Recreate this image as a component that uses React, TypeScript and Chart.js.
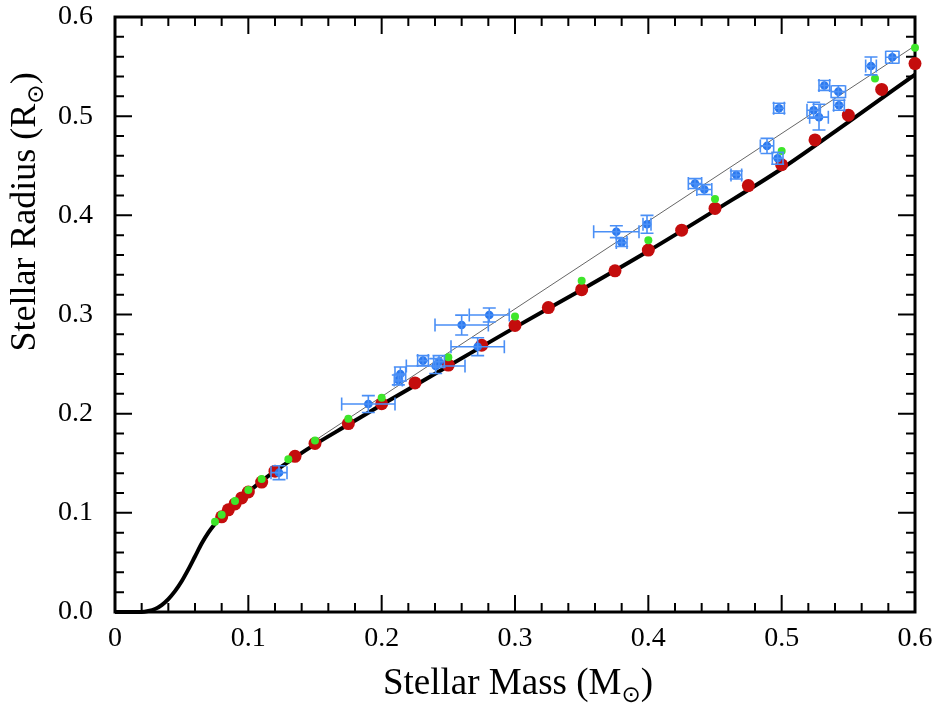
import React, { useEffect, useRef } from "react";
import { Chart, registerables } from "chart.js";

Chart.register(...registerables);

// Axis ticks
const xTickValues = [0, 0.1, 0.2, 0.3, 0.4, 0.5, 0.6];
const xTickLabels = ["0", "0.1", "0.2", "0.3", "0.4", "0.5", "0.6"];
const yTickValues = [0, 0.1, 0.2, 0.3, 0.4, 0.5, 0.6];
const yTickLabels = ["0.0", "0.1", "0.2", "0.3", "0.4", "0.5", "0.6"];

// Thick black model curve
const curveMass = [0, 0.02, 0.025, 0.03, 0.035, 0.04, 0.045, 0.05, 0.055, 0.06, 0.065, 0.07, 0.075, 0.08, 0.09, 0.1, 0.11, 0.12, 0.135, 0.15, 0.175, 0.2, 0.25, 0.3, 0.35, 0.4, 0.45, 0.5, 0.55, 0.6];
const curveRadius = [0, 0, 0.001, 0.003, 0.007, 0.013, 0.021, 0.031, 0.043, 0.056, 0.069, 0.08, 0.089, 0.097, 0.109, 0.121, 0.132, 0.142, 0.156, 0.169, 0.189, 0.209, 0.248, 0.287, 0.325, 0.364, 0.405, 0.447, 0.494, 0.542];

// Thin grey line
const thinMass = [0.15, 0.6];
const thinRadius = [0.173, 0.571];

// Red model points
const redMass = [0.08, 0.085, 0.09, 0.095, 0.1, 0.11, 0.12, 0.135, 0.15, 0.175, 0.2, 0.225, 0.25, 0.275, 0.3, 0.325, 0.35, 0.375, 0.4, 0.425, 0.45, 0.475, 0.5, 0.525, 0.55, 0.575, 0.6];
const redRadius = [0.096, 0.103, 0.109, 0.115, 0.121, 0.131, 0.142, 0.157, 0.17, 0.19, 0.21, 0.231, 0.249, 0.269, 0.289, 0.307, 0.325, 0.344, 0.365, 0.385, 0.407, 0.43, 0.451, 0.476, 0.501, 0.527, 0.553];

// Green model points
const greenMass = [0.075, 0.08, 0.09, 0.1, 0.11, 0.13, 0.15, 0.175, 0.2, 0.25, 0.3, 0.35, 0.4, 0.45, 0.5, 0.57, 0.6];
const greenRadius = [0.091, 0.098, 0.112, 0.123, 0.134, 0.154, 0.173, 0.195, 0.216, 0.257, 0.298, 0.334, 0.375, 0.4165, 0.465, 0.538, 0.569];

// Blue observed points with errors
const blueMass = [0.123, 0.19, 0.2125, 0.214, 0.231, 0.2405, 0.243, 0.26, 0.272, 0.2807, 0.376, 0.38, 0.399, 0.435, 0.442, 0.466, 0.489, 0.497, 0.498, 0.524, 0.528, 0.532, 0.5425, 0.543, 0.567, 0.583];
const blueRadius = [0.1405, 0.2097, 0.234, 0.24, 0.2535, 0.248, 0.2525, 0.2894, 0.2675, 0.2995, 0.3835, 0.3725, 0.391, 0.432, 0.426, 0.4407, 0.47, 0.4575, 0.508, 0.506, 0.499, 0.531, 0.5247, 0.511, 0.5506, 0.5594];
const blueMassErr = [0.006, 0.02, 0.003, 0.004, 0.004, 0.022, 0.004, 0.02, 0.02, 0.015, 0.017, 0.004, 0.003, 0.005, 0.0056, 0.004, 0.005, 0.004, 0.004, 0.005, 0.007, 0.004, 0.0054, 0.004, 0.004, 0.005];
const blueRadiusErr = [0.007, 0.0085, 0.005, 0.007, 0.005, 0.0075, 0.006, 0.01, 0.009, 0.007, 0.006, 0.004, 0.009, 0.005, 0.005, 0.004, 0.0076, 0.006, 0.005, 0.008, 0.013, 0.005, 0.006, 0.005, 0.009, 0.006];

const xy = (xs: number[], ys: number[]) => xs.map((x, i) => ({ x, y: ys[i] }));

const errorBarPlugin = {
  id: "errorBars",
  afterDatasetsDraw(chart: any) {
    const ctx = chart.ctx;
    const xs = chart.scales.x;
    const ys = chart.scales.y;
    const cap = 6.5;
    ctx.save();
    ctx.strokeStyle = "#4a8ff6";
    ctx.lineWidth = 1.6;
    for (let i = 0; i < blueMass.length; i++) {
      const px = xs.getPixelForValue(blueMass[i]);
      const py = ys.getPixelForValue(blueRadius[i]);
      const x0 = xs.getPixelForValue(blueMass[i] - blueMassErr[i]);
      const x1 = xs.getPixelForValue(blueMass[i] + blueMassErr[i]);
      const y0 = ys.getPixelForValue(blueRadius[i] - blueRadiusErr[i]);
      const y1 = ys.getPixelForValue(blueRadius[i] + blueRadiusErr[i]);
      ctx.beginPath();
      ctx.moveTo(x0, py); ctx.lineTo(x1, py);
      ctx.moveTo(x0, py - cap); ctx.lineTo(x0, py + cap);
      ctx.moveTo(x1, py - cap); ctx.lineTo(x1, py + cap);
      ctx.moveTo(px, y0); ctx.lineTo(px, y1);
      ctx.moveTo(px - cap, y0); ctx.lineTo(px + cap, y0);
      ctx.moveTo(px - cap, y1); ctx.lineTo(px + cap, y1);
      ctx.stroke();
    }
    ctx.restore();
  },
};

const framePlugin = {
  id: "frameTicks",
  beforeDatasetsDraw(chart: any) {
    const ctx = chart.ctx;
    const { left, right, top, bottom } = chart.chartArea;
    const xs = chart.scales.x;
    const ys = chart.scales.y;
    ctx.save();
    ctx.strokeStyle = "#000";
    ctx.lineWidth = 2;
    for (let i = 0; i <= 30; i++) {
      const v = i * 0.02;
      const len = i % 5 === 0 ? 17 : 9;
      const px = xs.getPixelForValue(v);
      const py = ys.getPixelForValue(v);
      ctx.beginPath();
      ctx.moveTo(px, bottom); ctx.lineTo(px, bottom - len);
      ctx.moveTo(px, top); ctx.lineTo(px, top + len);
      ctx.moveTo(left, py); ctx.lineTo(left + len, py);
      ctx.moveTo(right, py); ctx.lineTo(right - len, py);
      ctx.stroke();
    }
    ctx.lineWidth = 3;
    ctx.strokeRect(left, top, right - left, bottom - top);
    ctx.restore();
  },
};

type Part = { text: string; font: string; dy: number };
function drawParts(ctx: CanvasRenderingContext2D, parts: Part[], cx: number, baseline: number) {
  let total = 0;
  const widths = parts.map((p) => {
    ctx.font = p.font;
    const w = ctx.measureText(p.text).width;
    total += w;
    return w;
  });
  let x = cx - total / 2;
  parts.forEach((p, i) => {
    ctx.font = p.font;
    ctx.fillText(p.text, x, baseline + p.dy);
    x += widths[i];
  });
}

const titlePlugin = {
  id: "axisTitles",
  afterDraw(chart: any) {
    const ctx = chart.ctx;
    ctx.save();
    ctx.fillStyle = "#000";
    ctx.textBaseline = "alphabetic";
    ctx.textAlign = "left";
    const main = "37px 'Liberation Serif', serif";
    const sub = "23px 'DejaVu Sans', sans-serif";
    drawParts(ctx, [
      { text: "Stellar Mass (M", font: main, dy: 0 },
      { text: "\u2299", font: sub, dy: 8 },
      { text: ")", font: main, dy: 0 },
    ], 518, 694);
    ctx.translate(35, 212);
    ctx.rotate(-Math.PI / 2);
    drawParts(ctx, [
      { text: "Stellar Radius (R", font: "36px 'Liberation Serif', serif", dy: 0 },
      { text: "\u2299", font: sub, dy: 8 },
      { text: ")", font: "36px 'Liberation Serif', serif", dy: 0 },
    ], 0, 0);
    ctx.restore();
  },
};

export default function App() {
  const ref = useRef<HTMLCanvasElement | null>(null);
  useEffect(() => {
    if (!ref.current) return;
    const tickFont = { family: "'Liberation Serif', serif", size: 28 };
    const chart = new Chart(ref.current, {
      type: "scatter",
      data: {
        datasets: [
          {
            label: "Observed",
            data: xy(blueMass, blueRadius),
            backgroundColor: "#2a78ee",
            borderWidth: 0,
            pointRadius: 4.3,
            clip: false,
          } as any,
          {
            label: "Model B",
            data: xy(greenMass, greenRadius),
            backgroundColor: "#3ee62a",
            borderWidth: 0,
            pointRadius: 4,
            clip: false,
          },
          {
            label: "Model A",
            data: xy(redMass, redRadius),
            backgroundColor: "#c40d0d",
            borderWidth: 0,
            pointRadius: 6.5,
            clip: false,
          },
          {
            label: "Fit",
            data: xy(thinMass, thinRadius),
            showLine: true,
            borderColor: "#666",
            borderWidth: 1,
            pointRadius: 0,
          },
          {
            label: "Model curve",
            data: xy(curveMass, curveRadius),
            showLine: true,
            borderColor: "#000",
            borderWidth: 4,
            pointRadius: 0,
            cubicInterpolationMode: "monotone",
            clip: false,
          },
        ],
      },
      options: {
        responsive: false,
        animation: false,
        events: [],
        layout: { padding: { top: 17, right: 19, left: 0, bottom: 0 } },
        plugins: { legend: { display: false }, tooltip: { enabled: false }, title: { display: false } },
        scales: {
          x: {
            type: "linear",
            min: 0,
            max: 0.6,
            grid: { display: false, drawTicks: false },
            border: { display: false },
            afterBuildTicks: (s: any) => { s.ticks = xTickValues.map((v) => ({ value: v })); },
            afterFit: (s: any) => { s.height = 98; s.paddingLeft = 0; s.paddingRight = 0; s.paddingTop = 0; s.paddingBottom = 0; },
            ticks: {
              font: tickFont,
              color: "#000",
              padding: 10,
              maxRotation: 0,
              autoSkip: false,
              callback: (_v: any, i: number) => xTickLabels[i],
            },
          },
          y: {
            type: "linear",
            min: 0,
            max: 0.6,
            grid: { display: false, drawTicks: false },
            border: { display: false },
            afterBuildTicks: (s: any) => { s.ticks = yTickValues.map((v) => ({ value: v })); },
            afterFit: (s: any) => { s.width = 115; s.paddingLeft = 0; s.paddingRight = 0; s.paddingTop = 0; s.paddingBottom = 0; },
            ticks: {
              font: tickFont,
              color: "#000",
              padding: 22,
              autoSkip: false,
              callback: (_v: any, i: number) => yTickLabels[i],
            },
          },
        },
      },
      plugins: [framePlugin, errorBarPlugin, titlePlugin],
    });
    return () => chart.destroy();
  }, []);
  return (
    <div style={{ position: "fixed", left: 0, top: 0, width: 934, height: 710, background: "#fff" }}>
      <canvas ref={ref} width={934} height={710} style={{ width: 934, height: 710, display: "block" }} />
    </div>
  );
}
